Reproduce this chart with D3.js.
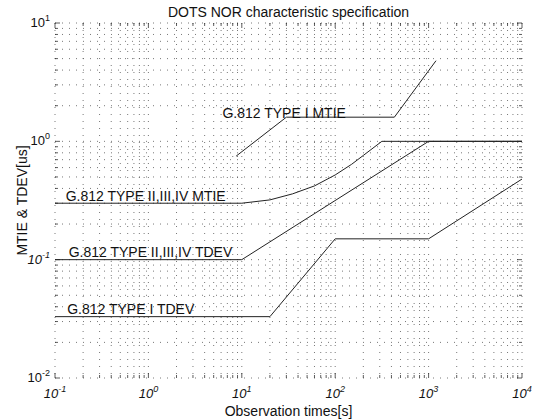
<!DOCTYPE html>
<html>
<head>
<meta charset="utf-8">
<script src="https://cdn.jsdelivr.net/npm/d3@7/dist/d3.min.js"></script>
<style>
  html, body { margin: 0; padding: 0; background: #fff; }
  svg { display: block; font-family: "Liberation Sans", Arial, Helvetica, sans-serif; }
</style>
</head>
<body>
<svg id="chart" width="546" height="420"></svg>
<script>
// ---- data ----
const xTickValues = [0.1, 1, 10, 100, 1000, 10000];
const xTickExponents = ["-1", "0", "1", "2", "3", "4"];
const yTickValues = [0.01, 0.1, 1, 10];
const yTickExponents = ["-2", "-1", "0", "1"];

const typeIMtieTau = [8.7, 30, 430, 1200];
const typeIMtieVal = [0.75, 1.6, 1.6, 4.8];

const typeIIMtieTau = [0.1, 10, 20, 35, 60, 100, 150, 200, 316, 10000];
const typeIIMtieVal = [0.3, 0.3, 0.32, 0.36, 0.42, 0.52, 0.64, 0.76, 1.0, 1.0];

const typeIITdevTau = [0.1, 10, 1000, 10000];
const typeIITdevVal = [0.1, 0.1, 1.0, 1.0];

const typeITdevTau = [0.1, 20, 100, 1000, 10000];
const typeITdevVal = [0.033, 0.033, 0.15, 0.15, 0.48];

const curveLabels = ["G.812 TYPE I MTIE", "G.812 TYPE II,III,IV MTIE", "G.812 TYPE II,III,IV TDEV", "G.812 TYPE I TDEV"];
const labelTau = [6.2, 0.13, 0.14, 0.135];
const labelVal = [1.55, 0.305, 0.104, 0.034];

const titleText = "DOTS NOR characteristic specification";
const xTitle = "Observation times[s]";
const yTitle = "MTIE & TDEV[us]";

// ---- layout ----
const svg = d3.select("#chart");
const L = 55, R = 522, T = 23, B = 378;
const x = d3.scaleLog().domain([0.1, 10000]).range([L, R]);
const y = d3.scaleLog().domain([0.01, 10]).range([B, T]);

const xAll = [], yAll = [];
for (let e = -1; e < 4; e++) for (let m = 1; m < 10; m++) xAll.push(m * Math.pow(10, e));
xAll.push(10000);
for (let e = -2; e < 1; e++) for (let m = 1; m < 10; m++) yAll.push(m * Math.pow(10, e));
yAll.push(10);

// dotted grid
const grid = svg.append("g").attr("stroke", "#555").attr("stroke-width", 0.8).attr("stroke-dasharray", "1,6");
grid.selectAll("line.v").data(xAll).join("line").attr("class", "v")
  .attr("x1", d => x(d)).attr("x2", d => x(d)).attr("y1", T).attr("y2", B);
grid.selectAll("line.h").data(yAll).join("line").attr("class", "h")
  .attr("y1", d => y(d)).attr("y2", d => y(d)).attr("x1", L).attr("x2", R);

// ticks on all sides (inward)
const ticks = svg.append("g").attr("stroke", "#333").attr("stroke-width", 0.8);
const isMajor = v => Math.abs(Math.log10(v) - Math.round(Math.log10(v))) < 1e-9;
xAll.forEach(v => {
  const len = isMajor(v) ? 5 : 3;
  ticks.append("line").attr("x1", x(v)).attr("x2", x(v)).attr("y1", B).attr("y2", B - len);
  ticks.append("line").attr("x1", x(v)).attr("x2", x(v)).attr("y1", T).attr("y2", T + len);
});
yAll.forEach(v => {
  const len = isMajor(v) ? 5 : 3;
  ticks.append("line").attr("y1", y(v)).attr("y2", y(v)).attr("x1", L).attr("x2", L + len);
  ticks.append("line").attr("y1", y(v)).attr("y2", y(v)).attr("x1", R).attr("x2", R - len);
});

// curves
const line = d3.line().x(d => x(d[0])).y(d => y(d[1]));
const series = [
  [typeIMtieTau, typeIMtieVal],
  [typeIIMtieTau, typeIIMtieVal],
  [typeIITdevTau, typeIITdevVal],
  [typeITdevTau, typeITdevVal]
];
svg.append("g").selectAll("path").data(series).join("path")
  .attr("d", s => line(s[0].map((t, i) => [t, s[1][i]])))
  .attr("fill", "none").attr("stroke", "#222").attr("stroke-width", 1);

// curve labels
svg.append("g").selectAll("text").data(curveLabels).join("text")
  .attr("x", (d, i) => x(labelTau[i]))
  .attr("y", (d, i) => y(labelVal[i]) - 1)
  .attr("font-size", 14).attr("fill", "#111")
  .text(d => d);

// x tick labels
const xl = svg.append("g").selectAll("text").data(xTickValues).join("text")
  .attr("x", d => x(d)).attr("y", 398).attr("text-anchor", "middle")
  .attr("font-size", 13).attr("font-style", "italic").attr("fill", "#111");
xl.append("tspan").text("10");
xl.append("tspan").attr("dy", -6).attr("font-size", 9).text((d, i) => xTickExponents[i]);

// y tick labels
const yl = svg.append("g").selectAll("text").data(yTickValues).join("text")
  .attr("x", 50).attr("y", d => y(d) + 4).attr("text-anchor", "end")
  .attr("font-size", 13).attr("fill", "#111")
  .attr("font-style", d => d === 0.1 ? "italic" : "normal");
yl.append("tspan").text("10");
yl.append("tspan").attr("dy", -6).attr("font-size", 9).text((d, i) => yTickExponents[i]);

// titles
svg.append("text").attr("x", (L + R) / 2).attr("y", 17).attr("text-anchor", "middle")
  .attr("font-size", 14).attr("fill", "#111").text(titleText);
svg.append("text").attr("x", (L + R) / 2).attr("y", 416).attr("text-anchor", "middle")
  .attr("font-size", 14).attr("fill", "#111").text(xTitle);
svg.append("text").attr("transform", `translate(27,${(T + B) / 2}) rotate(-90)`)
  .attr("text-anchor", "middle").attr("font-size", 14).attr("fill", "#111").text(yTitle);
</script>
</body>
</html>
